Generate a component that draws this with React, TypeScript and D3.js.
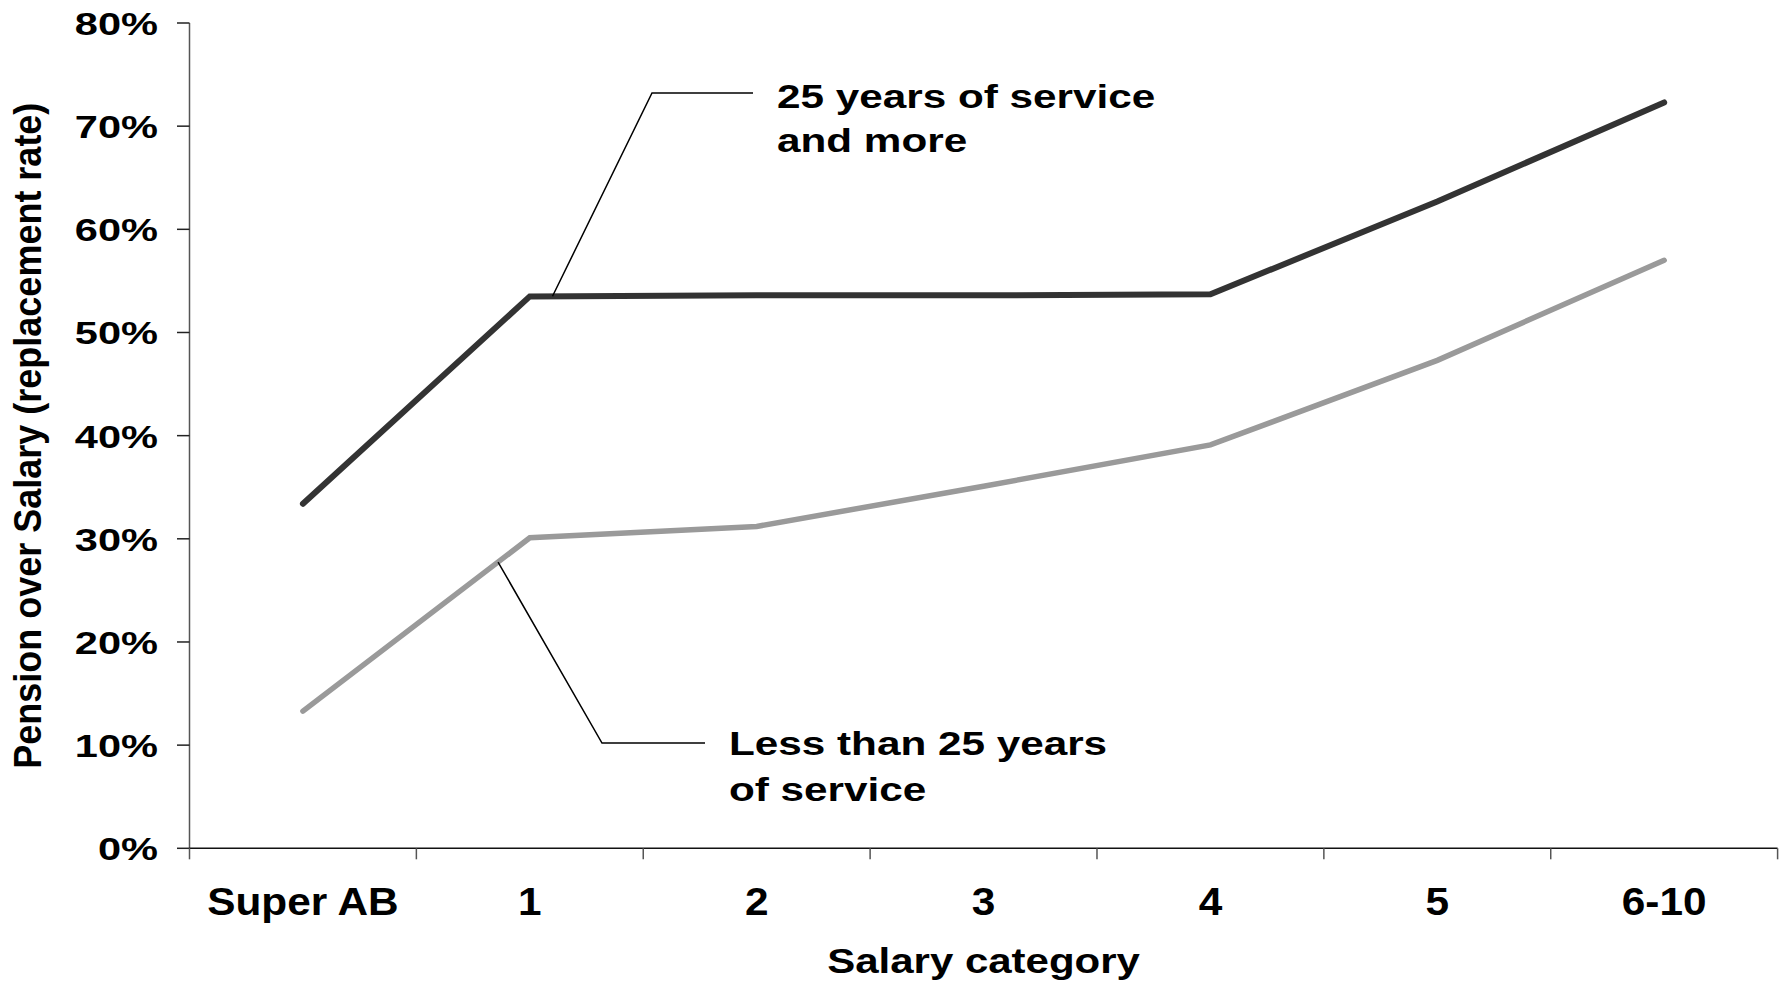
import React from "react";
import * as d3 from "d3";

// Salary categories along the x axis
const categories = ["Super AB", "1", "2", "3", "4", "5", "6-10"];
// Replacement rate (pension / salary) per category
const longService = [0.334, 0.535, 0.536, 0.536, 0.537, 0.627, 0.723];
const shortService = [0.133, 0.301, 0.312, 0.351, 0.391, 0.473, 0.57];
const yTicks = [0, 0.1, 0.2, 0.3, 0.4, 0.5, 0.6, 0.7, 0.8];

const longLabel = ["25 years of service", "and more"];
const shortLabel = ["Less than 25 years", "of service"];
const xTitle = "Salary category";
const yTitle = "Pension over Salary (replacement rate)";

const W = 1789;
const H = 981;
const FONT = "'Liberation Sans', Arial, Helvetica, sans-serif";

export default function App() {
  const x = d3.scaleBand<string>().domain(categories).range([189.5, 1777.6]).paddingInner(0).paddingOuter(0);
  const y = d3.scaleLinear().domain([0, 0.8]).range([848.3, 23]);
  const cx = (i: number) => (x(categories[0]) as number) + x.bandwidth() * (i + 0.5);

  const line = d3
    .line<number>()
    .x((_, i) => cx(i))
    .y((v) => y(v));

  // point on a series at a fractional category index
  const along = (vals: number[], t: number) => {
    const i = Math.floor(t);
    const f = t - i;
    return [cx(t), y(vals[i] + (vals[i + 1] - vals[i]) * f)];
  };

  const topAnchor = along(longService, 1.1);
  const botAnchor = along(shortService, 0.86);

  const boundaries = d3.range(categories.length + 1).map((i) => (x(categories[0]) as number) + i * x.bandwidth());

  return (
    <svg width={W} height={H} style={{ position: "absolute", left: 0, top: 0, background: "#fff" }} fontFamily={FONT} fontWeight="bold">
      {/* y axis */}
      <line x1={189.5} x2={189.5} y1={y(0.8)} y2={y(0)} stroke="#555" strokeWidth={1.5} />
      {yTicks.map((t) => (
        <g key={t}>
          <line x1={177} x2={189.5} y1={y(t)} y2={y(t)} stroke="#222" strokeWidth={1.5} />
          <text transform={`translate(158,${y(t) + 12}) scale(1.32,1)`} textAnchor="end" fontSize={31.5} fill="#000">
            {d3.format(".0%")(t)}
          </text>
        </g>
      ))}
      {/* x axis */}
      <line x1={189.5} x2={1777.6} y1={y(0)} y2={y(0)} stroke="#111" strokeWidth={1.5} />
      {boundaries.map((b, i) => (
        <line key={i} x1={b} x2={b} y1={y(0)} y2={y(0) + 11} stroke="#555" strokeWidth={1.5} />
      ))}
      {categories.map((c, i) => (
        <text key={c} transform={`translate(${cx(i)},915) scale(1.1,1)`} textAnchor="middle" fontSize={38.5} fill="#000">
          {c}
        </text>
      ))}
      <text transform={`translate(${(189.5 + 1777.6) / 2},973) scale(1.2,1)`} textAnchor="middle" fontSize={35} fill="#000">
        {xTitle}
      </text>
      <text transform={`translate(41,${(y(0) + y(0.8)) / 2}) scale(1.1,1) rotate(-90)`} textAnchor="middle" fontSize={36} fill="#000">
        {yTitle}
      </text>

      {/* series */}
      <path d={line(shortService) ?? ""} fill="none" stroke="#9a9a9a" strokeWidth={5.5} strokeLinecap="round" strokeLinejoin="miter" />
      <path d={line(longService) ?? ""} fill="none" stroke="#333" strokeWidth={6} strokeLinecap="round" strokeLinejoin="miter" />

      {/* callouts */}
      <polyline points={`${topAnchor[0]},${topAnchor[1]} 652,93 753,93`} fill="none" stroke="#000" strokeWidth={1.5} />
      <polyline points={`${botAnchor[0]},${botAnchor[1]} 602,743 705,743`} fill="none" stroke="#000" strokeWidth={1.5} />
      {longLabel.map((s, i) => (
        <text key={s} transform={`translate(777,${108 + i * 44}) scale(1.3,1)`} fontSize={32.5} fill="#000">
          {s}
        </text>
      ))}
      {shortLabel.map((s, i) => (
        <text key={s} transform={`translate(729,${755 + i * 46}) scale(1.3,1)`} fontSize={32.5} fill="#000">
          {s}
        </text>
      ))}
    </svg>
  );
}
